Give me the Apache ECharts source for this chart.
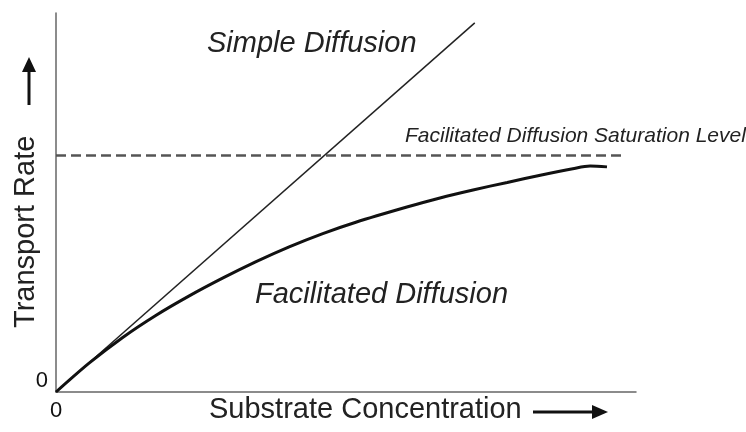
<!DOCTYPE html>
<html><head><meta charset="utf-8">
<script src="https://cdn.jsdelivr.net/npm/echarts@6/dist/echarts.min.js"></script>
<style>html,body{margin:0;padding:0;background:#fff}#c{width:746px;height:432px}</style>
</head><body><div id="c"></div>
<script>
// Data (arbitrary units, axes 0..100)
const simpleDiffusion = [[0, 0], [72.2, 97.4]];
const facilitatedX = [0, 5.7, 11.5, 17.2, 22.9, 28.8, 34.5, 40.2, 46.0, 51.7, 60.5, 66.2, 71.9, 77.8, 83.5, 89.1, 92.1, 95.0];
const facilitatedY = [0, 7.6, 14.4, 20.2, 25.3, 30.1, 34.4, 38.3, 41.8, 44.8, 48.8, 51.2, 53.3, 55.3, 57.2, 58.9, 59.6, 59.4];
const saturationLevel = 62.4;
const saturationX = [0, 97.6];
const xTickLabels = [0];
const yTickLabels = [0];
const labels = {
  simple: 'Simple Diffusion',
  facilitated: 'Facilitated Diffusion',
  saturation: 'Facilitated Diffusion Saturation Level',
  xName: 'Substrate Concentration',
  yName: 'Transport Rate'
};

const FONT = '"Liberation Sans", Arial, Helvetica, sans-serif';
const chart = echarts.init(document.getElementById('c'), null, {renderer: 'canvas'});
chart.setOption({
  animation: false,
  backgroundColor: '#fff',
  grid: {left: 56, right: 110, top: 13, bottom: 40, containLabel: false},
  xAxis: {
    type: 'value', min: 0, max: 100,
    axisLine: {show: true, lineStyle: {color: '#666', width: 1.5}},
    axisTick: {show: false}, splitLine: {show: false},
    axisLabel: {customValues: xTickLabels, fontSize: 22, color: '#111', fontFamily: FONT, margin: 8, align: 'center'}
  },
  yAxis: {
    type: 'value', min: 0, max: 100,
    axisLine: {show: true, lineStyle: {color: '#666', width: 1.5}},
    axisTick: {show: false}, splitLine: {show: false},
    axisLabel: {customValues: yTickLabels, fontSize: 22, color: '#111', fontFamily: FONT, margin: 8, verticalAlign: 'bottom'}
  },
  series: [
    {
      type: 'line', name: labels.saturation, symbol: 'none',
      data: saturationX.map(x => [x, saturationLevel]),
      lineStyle: {color: '#555', width: 2.5, type: [10, 5]}
    },
    {
      type: 'line', name: labels.simple, symbol: 'none',
      data: simpleDiffusion,
      lineStyle: {color: '#222', width: 1.5}
    },
    {
      type: 'line', name: labels.facilitated, symbol: 'none', smooth: 0.3,
      data: facilitatedX.map((x, i) => [x, facilitatedY[i]]),
      lineStyle: {color: '#111', width: 3}
    }
  ],
  graphic: [
    {type: 'text', left: 207, top: 29, style: {text: labels.simple, font: 'italic 29px ' + FONT, fill: '#222'}},
    {type: 'text', left: 255, top: 280, style: {text: labels.facilitated, font: 'italic 29px ' + FONT, fill: '#222'}},
    {type: 'text', x: 405, y: 126, style: {text: labels.saturation, font: 'italic 21px ' + FONT, fill: '#222'}},
    {type: 'text', left: 209, top: 395, style: {text: labels.xName, font: '29px ' + FONT, fill: '#222'}},
    {type: 'text', x: 11, y: 328, rotation: Math.PI / 2, style: {text: labels.yName, font: '29px ' + FONT, fill: '#222'}},
    // x arrow
    {type: 'line', shape: {x1: 533, y1: 412, x2: 596, y2: 412}, style: {stroke: '#111', lineWidth: 3}},
    {type: 'polygon', shape: {points: [[592, 405], [608, 412], [592, 419]]}, style: {fill: '#111'}},
    // y arrow
    {type: 'line', shape: {x1: 29, y1: 105, x2: 29, y2: 68}, style: {stroke: '#111', lineWidth: 3}},
    {type: 'polygon', shape: {points: [[22, 72], [29, 57], [36, 72]]}, style: {fill: '#111'}}
  ]
});
</script></body></html>
